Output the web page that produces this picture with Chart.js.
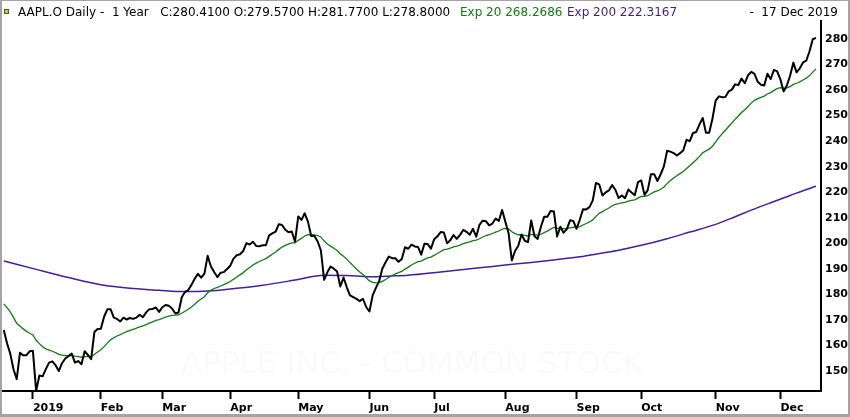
<!DOCTYPE html>
<html><head><meta charset="utf-8">
<script src="https://cdn.jsdelivr.net/npm/chart.js@4.4.1/dist/chart.umd.min.js"></script>
<style>html,body{margin:0;padding:0;background:#fff;overflow:hidden}#wrap{width:850px;height:417px;position:relative}</style>
</head><body><div id="wrap"><canvas id="c" width="850" height="417"></canvas></div>
<script>
// Daily closes, 18 Dec 2018 .. 17 Dec 2019 (trading-day index 0..251)
const closes = [
166.07,160.89,156.83,150.73,146.83,157.17,156.15,156.23,157.74,
157.92,142.19,148.26,147.93,150.75,153.31,153.80,152.29,150.00,153.07,154.94,155.86,156.82,153.30,153.92,152.70,157.76,156.30,154.68,165.25,166.44,
166.52,171.25,174.18,174.24,170.94,170.41,169.43,170.89,170.18,170.80,170.42,170.93,172.03,171.06,172.97,174.23,174.33,174.87,173.15,
174.97,175.85,175.53,174.52,172.50,172.91,178.90,180.91,181.71,183.73,186.12,188.02,186.53,188.16,195.09,191.05,188.74,186.79,188.47,188.72,189.95,
191.24,194.02,195.35,195.69,197.00,200.10,199.50,200.62,198.95,198.87,199.23,199.25,203.13,203.86,204.53,207.48,207.16,205.28,204.30,204.61,200.67,
210.52,209.15,211.75,208.48,202.86,202.90,200.72,197.18,185.72,188.66,190.92,190.08,189.00,183.09,186.60,182.78,179.66,178.97,178.23,177.38,178.30,175.07,
173.30,179.64,182.54,185.22,190.15,192.58,194.81,194.19,194.15,192.74,193.89,198.45,197.87,199.46,198.78,198.58,195.57,199.80,199.74,197.92,
201.55,202.73,204.41,204.23,200.02,201.24,203.23,201.75,203.30,205.21,204.50,203.35,205.66,202.59,207.22,208.84,208.67,207.02,207.74,209.68,208.78,213.04,
208.43,204.02,193.34,197.00,199.04,203.43,200.99,200.48,208.97,202.75,201.74,206.50,210.35,210.36,212.64,212.46,202.64,206.49,204.16,205.53,209.01,208.74,
205.70,209.19,213.28,213.26,214.17,216.70,223.59,223.09,218.75,219.90,220.70,222.77,220.96,217.73,218.72,217.68,221.03,219.89,218.82,223.97,
224.59,218.96,220.82,227.01,227.06,224.40,227.03,230.09,236.21,235.87,235.32,234.37,235.28,236.41,240.51,239.96,243.18,243.58,246.58,249.05,243.29,243.26,248.76,
255.82,257.50,257.13,257.24,259.43,260.14,262.20,261.96,264.47,262.64,265.76,267.10,266.29,263.19,262.01,261.78,266.37,264.29,267.84,267.25,
264.16,259.45,261.74,265.58,270.71,266.92,268.48,270.77,271.46,275.15,279.86,280.41
];
// Exp 20 (green), one value per trading day
const ema20 = [
176.30,174.83,173.13,171.00,168.70,167.60,166.51,165.53,164.79,
164.14,162.05,160.74,159.52,158.69,158.18,157.76,157.24,156.55,156.22,156.10,156.08,156.15,155.88,155.69,155.41,155.63,155.70,155.60,156.52,157.46,
158.32,159.55,160.94,162.21,163.04,163.74,164.28,164.91,165.41,165.93,166.35,166.79,167.29,167.65,168.15,168.73,169.26,169.80,170.12,
170.58,171.08,171.50,171.79,171.86,171.96,172.62,173.41,174.20,175.11,176.16,177.29,178.17,179.12,180.64,181.63,182.31,182.74,183.29,183.80,184.39,
185.04,185.90,186.80,187.64,188.53,189.63,190.57,191.53,192.24,192.87,193.47,194.02,194.89,195.74,196.58,197.62,198.53,199.17,199.66,200.13,200.18,
201.16,201.92,202.86,203.39,203.34,203.30,203.05,202.49,200.89,199.73,198.89,198.05,197.19,195.85,194.97,193.81,192.46,191.18,189.95,188.75,187.75,186.54,
185.28,184.74,184.53,184.60,185.13,185.84,186.69,187.40,188.05,188.49,189.01,189.91,190.67,191.51,192.20,192.81,193.07,193.71,194.28,194.63,
195.29,196.00,196.80,197.51,197.75,198.08,198.57,198.87,199.29,199.86,200.30,200.59,201.07,201.22,201.79,202.46,203.05,203.43,203.84,204.40,204.81,205.60,
205.87,205.69,204.51,203.80,203.34,203.35,203.13,202.87,203.45,203.39,203.23,203.54,204.19,204.78,205.53,206.19,205.85,205.91,205.74,205.72,206.04,206.29,
206.24,206.52,207.16,207.74,208.36,209.15,210.53,211.72,212.39,213.11,213.83,214.68,215.28,215.51,215.82,216.00,216.48,216.80,216.99,217.66,
218.32,218.38,218.61,219.41,220.14,220.55,221.17,222.02,223.37,224.56,225.58,226.42,227.26,228.13,229.31,230.32,231.55,232.69,234.01,235.44,236.19,236.87,238.00,
239.70,241.40,242.90,244.26,245.71,247.08,248.52,249.80,251.20,252.29,253.57,254.86,255.95,256.64,257.15,257.59,258.43,258.99,259.83,260.54,
260.88,260.75,260.84,261.29,262.19,262.64,263.20,263.92,264.64,265.64,267.00,268.27
];
// Exp 200 (purple), read at sample trading days
const ema200Idx  = [0,10,20,30,40,48,56,63,70,80,90,99,106,113,120,125,135,147,155,163,170,178,185,190,197,205,212,220,226,231,237,243,247,251];
const ema200Vals = [193.1,189.8,186.6,183.8,182.3,181.6,181.1,181.3,182.1,183.6,185.6,187.5,187.4,186.9,187.2,187.5,188.8,190.4,191.5,192.5,193.5,194.7,196.2,197.3,199.2,201.8,204.4,207.4,210.4,213.0,215.9,218.7,220.6,222.3];

const monthTickIdx    = [9,30,49,70,91,113,133,155,177,197,220,240];
const monthTickLabels = ['2019','Feb','Mar','Apr','May','Jun','Jul','Aug','Sep','Oct','Nov','Dec'];
const yTickValues = [150,160,170,180,190,200,210,220,230,240,250,260,270,280];

const headerMain   = 'AAPL.O Daily -  1 Year   C:280.4100 O:279.5700 H:281.7700 L:278.8000';
const headerExp20  = 'Exp 20 268.2686';
const headerExp200 = 'Exp 200 222.3167';
const headerDate   = '-  17 Dec 2019';
const watermark    = 'APPLE INC. - COMMON STOCK';

const GREEN = '#127a12';
const PURPLE = '#3d20a3';

const decor = {
  id: 'decor',
  beforeDraw(chart) {
    const ctx = chart.ctx;
    ctx.save();
    ctx.fillStyle = '#ffffff';
    ctx.fillRect(0, 0, chart.width, chart.height);
    ctx.restore();
  },
  beforeDatasetsDraw(chart) {
    const ctx = chart.ctx;
    ctx.save();
    ctx.font = '31px "DejaVu Sans"';
    ctx.fillStyle = '#fafafa';
    ctx.textAlign = 'center';
    ctx.textBaseline = 'alphabetic';
    ctx.fillText(watermark, 412, 373);
    ctx.restore();
  },
  afterDraw(chart) {
    const ctx = chart.ctx, W = chart.width, H = chart.height;
    ctx.save();
    // header
    ctx.font = '12px "DejaVu Sans"';
    ctx.textBaseline = 'alphabetic';
    ctx.textAlign = 'left';
    ctx.fillStyle = '#000';
    ctx.fillText(headerMain, 18, 16);
    ctx.fillStyle = GREEN;
    ctx.fillText(headerExp20, 460, 16);
    ctx.fillStyle = '#3a1f8a';
    ctx.fillText(headerExp200, 567, 16);
    ctx.fillStyle = '#000';
    ctx.textAlign = 'right';
    ctx.fillText(headerDate, 838, 16);
    // icon
    ctx.fillStyle = '#5a5a20';
    ctx.fillRect(4, 9, 5, 5);
    ctx.fillStyle = '#c9c43a';
    ctx.fillRect(5, 10, 3, 3);
    // frame
    ctx.fillStyle = '#a4a4a4';
    ctx.fillRect(0, 0, W, 1);
    ctx.fillRect(0, 0, 2, H);
    ctx.fillRect(W - 2, 0, 2, H);
    ctx.fillRect(0, H - 3, W, 3);
    ctx.restore();
  }
};

new Chart(document.getElementById('c'), {
  type: 'line',
  data: {
    datasets: [
      { label: 'AAPL.O', data: closes.map((v, i) => ({x: i, y: v})), borderColor: '#000', borderWidth: 2, pointRadius: 0, tension: 0, borderJoinStyle: 'round' },
      { label: 'Exp 20', data: ema20.map((v, i) => ({x: i, y: v})), borderColor: GREEN, borderWidth: 1.3, pointRadius: 0, tension: 0 },
      { label: 'Exp 200', data: ema200Idx.map((x, i) => ({x: x, y: ema200Vals[i]})), borderColor: PURPLE, borderWidth: 1.5, pointRadius: 0, cubicInterpolationMode: 'monotone' }
    ]
  },
  options: {
    responsive: false,
    animation: false,
    devicePixelRatio: 1,
    layout: { padding: { left: 2, top: 21, right: 0, bottom: 0 } },
    plugins: { legend: { display: false }, tooltip: { enabled: false } },
    scales: {
      x: {
        type: 'linear', min: -0.55, max: 252.55,
        afterBuildTicks: (s) => { s.ticks = monthTickIdx.map(v => ({value: v})); },
        afterFit: (s) => { s.height = 26; },
        ticks: { autoSkip: false, maxRotation: 0, align: 'start', padding: 3, color: '#000',
                 font: { family: 'DejaVu Sans', size: 11, weight: 'bold' },
                 callback: (v, i) => monthTickLabels[i] },
        grid: { display: true, drawOnChartArea: false, drawTicks: true, tickLength: 8, tickWidth: 2, tickColor: '#000' },
        border: { display: true, color: '#000', width: 2 }
      },
      y: {
        type: 'linear', position: 'right', min: 142.2, max: 287,
        afterBuildTicks: (s) => { s.ticks = yTickValues.map(v => ({value: v})); },
        afterFit: (s) => { s.width = 29; },
        ticks: { padding: 4, color: '#000', font: { family: 'DejaVu Sans', size: 11, weight: 'bold' } },
        grid: { display: false, drawTicks: false },
        border: { display: true, color: '#000', width: 2 }
      }
    }
  },
  plugins: [decor]
});
</script></body></html>
